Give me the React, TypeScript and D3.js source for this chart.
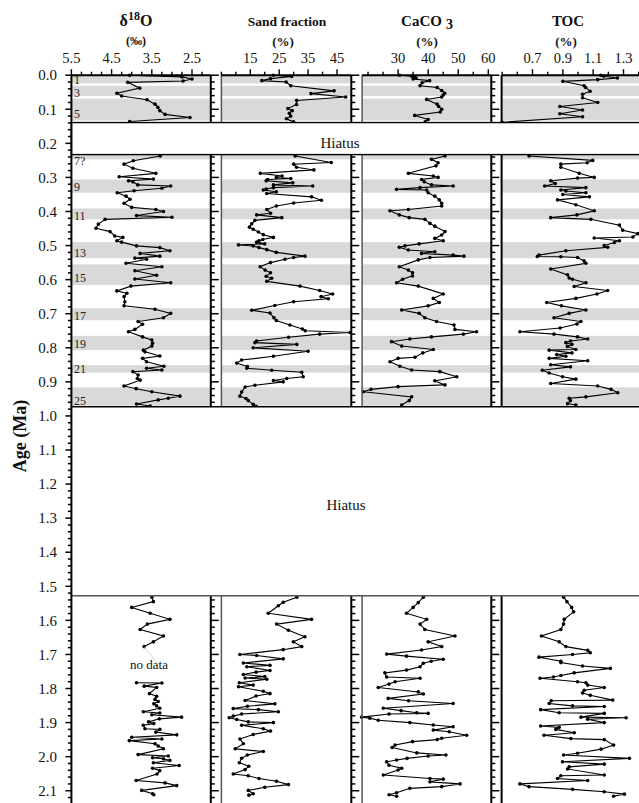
import React from "react";
import * as d3 from "d3";

// ---------------- DATA ----------------
type P = [number, number]; // [age Ma, value]

const d18oTop: P[] = [[0.000,4.05],[0.005,2.75],[0.011,2.5],[0.017,2.72],[0.021,4.1],[0.038,3.8],[0.053,4.37],[0.061,4.25],[0.072,3.62],[0.085,3.42],[0.094,3.35],[0.104,3.3],[0.115,3.17],[0.124,2.55],[0.136,4.05]];
const d18oMid: P[] = [[0.237,3.29],[0.251,3.96],[0.261,4.19],[0.273,3.97],[0.288,3.40],[0.298,4.31],[0.305,3.46],[0.310,4.08],[0.313,3.97],[0.322,3.85],[0.325,3.03],[0.332,3.25],[0.339,3.94],[0.345,4.36],[0.355,4.14],[0.364,4.04],[0.376,4.19],[0.388,4.0],[0.394,3.40],[0.400,3.21],[0.412,3.88],[0.417,3.0],[0.423,4.66],[0.437,4.83],[0.449,4.89],[0.459,4.54],[0.472,4.42],[0.476,4.22],[0.486,4.37],[0.490,4.25],[0.501,3.88],[0.506,3.30],[0.515,3.05],[0.523,3.79],[0.531,3.30],[0.537,3.92],[0.540,3.63],[0.552,4.14],[0.562,3.25],[0.574,3.92],[0.587,3.38],[0.598,3.92],[0.609,3.03],[0.619,4.02],[0.633,4.37],[0.640,4.12],[0.650,4.19],[0.665,4.17],[0.677,4.19],[0.687,3.42],[0.699,3.03],[0.712,3.21],[0.723,3.84],[0.731,3.73],[0.746,3.92],[0.753,4.08],[0.768,3.73],[0.777,3.50],[0.787,3.48],[0.795,3.50],[0.807,3.71],[0.812,3.67],[0.824,3.30],[0.831,3.73],[0.841,3.63],[0.854,3.20],[0.860,3.63],[0.865,3.25],[0.870,3.97],[0.880,3.84],[0.890,3.86],[0.895,3.79],[0.912,4.19],[0.920,3.89],[0.929,3.50],[0.942,2.80],[0.948,3.09],[0.953,3.34],[0.965,3.88],[0.971,3.54]];
const d18oBotA: P[] = [[1.532,3.50],[1.545,3.46],[1.562,4.0],[1.579,3.54],[1.597,3.05],[1.611,3.61],[1.627,3.79],[1.646,3.21],[1.663,3.46],[1.677,3.69]];
const d18oBotB: P[] = [[1.783,3.88],[1.784,3.25],[1.793,3.69],[1.797,3.38],[1.815,3.56],[1.823,3.38],[1.832,3.42],[1.838,3.34],[1.845,3.45],[1.851,3.38],[1.858,3.30],[1.868,3.71],[1.872,3.3],[1.877,3.5],[1.884,2.76],[1.889,3.31],[1.898,3.58],[1.903,3.45],[1.908,3.71],[1.918,3.67],[1.920,3.30],[1.928,3.4],[1.936,2.88],[1.943,4.0],[1.948,3.25],[1.953,4.06],[1.962,3.42],[1.969,3.34],[1.977,3.21],[1.994,3.84],[1.998,3.09],[2.003,3.48],[2.006,3.21],[2.011,3.05],[2.018,3.46],[2.026,2.82],[2.034,3.48],[2.041,3.30],[2.051,3.37],[2.070,3.89],[2.077,3.17],[2.085,2.88],[2.099,3.75],[2.109,3.48],[2.112,3.45]];

const sandTop: P[] = [[0.000,23],[0.004,29.3],[0.010,22],[0.016,19],[0.020,27.4],[0.031,29],[0.046,44],[0.054,36],[0.064,48],[0.074,31],[0.086,31],[0.098,28],[0.104,29.5],[0.112,28.5],[0.120,29],[0.128,27.5],[0.137,30]];
const sandMid: P[] = [[0.237,30.5],[0.256,43],[0.261,30],[0.270,31],[0.278,37],[0.288,18.5],[0.296,26],[0.300,24],[0.303,29],[0.306,21],[0.310,20.5],[0.316,29.7],[0.322,23],[0.325,36.6],[0.330,23],[0.334,20.5],[0.337,19.5],[0.342,24],[0.347,20.7],[0.357,36.2],[0.367,39.6],[0.375,30],[0.384,24],[0.394,20.7],[0.405,22],[0.410,17.2],[0.418,25.9],[0.426,16.6],[0.436,15.5],[0.446,14.7],[0.452,16],[0.460,17.8],[0.468,19.5],[0.476,23],[0.482,19.3],[0.486,18],[0.490,17.2],[0.495,20],[0.498,10.9],[0.501,16],[0.506,18],[0.512,20.7],[0.520,24],[0.531,33.9],[0.535,30],[0.540,27],[0.550,22],[0.562,18.4],[0.572,20.1],[0.580,22],[0.590,20.5],[0.596,22.4],[0.605,20.7],[0.619,32.2],[0.632,39],[0.642,43.5],[0.650,39.5],[0.656,42],[0.665,30],[0.676,23.5],[0.690,15.5],[0.698,21.8],[0.712,23.2],[0.720,24],[0.733,28.7],[0.745,33],[0.750,34],[0.755,49.5],[0.760,39],[0.769,28.2],[0.780,17.2],[0.785,16.6],[0.790,31.1],[0.800,16],[0.810,35],[0.825,23],[0.836,12],[0.845,10.3],[0.855,14],[0.860,13.8],[0.866,22.4],[0.872,32.8],[0.885,33.3],[0.890,27.6],[0.896,23],[0.900,26.4],[0.910,16.6],[0.915,13.2],[0.930,12],[0.942,11.4],[0.949,13.5],[0.955,14.3],[0.966,16],[0.972,17]];
const sandBot: P[] = [[1.532,31.1],[1.547,26.4],[1.557,24.7],[1.579,21.2],[1.597,36.2],[1.611,24.1],[1.629,28.2],[1.648,33.9],[1.663,29.9],[1.677,32.8],[1.686,26.4],[1.700,11.4],[1.703,17.2],[1.713,26.4],[1.725,12.6],[1.732,21.8],[1.736,13.8],[1.747,21.8],[1.752,17],[1.759,12.6],[1.765,20],[1.769,13.2],[1.773,20.7],[1.783,11.2],[1.790,16],[1.795,10.9],[1.808,19.5],[1.815,21.8],[1.822,17],[1.835,13.2],[1.845,23.5],[1.852,14],[1.859,9.1],[1.862,17.8],[1.868,24.7],[1.875,12],[1.881,9.1],[1.886,7.7],[1.891,10.3],[1.898,14.3],[1.900,23],[1.908,12],[1.918,19.5],[1.925,22],[1.935,16],[1.948,11.4],[1.962,12.6],[1.977,9.8],[1.985,19.5],[1.995,14],[2.005,12],[2.018,11.2],[2.028,14.5],[2.038,13.2],[2.051,9.1],[2.056,14.3],[2.064,18],[2.072,24.1],[2.082,28.2],[2.090,20],[2.099,14.3],[2.109,16],[2.113,14.5]];

const caco3Top: P[] = [[0.000,30.5],[0.003,34.5],[0.005,35.5],[0.008,36],[0.011,35],[0.016,40.5],[0.022,38],[0.031,37.3],[0.036,43],[0.045,44.5],[0.053,45.5],[0.058,45],[0.064,44.5],[0.071,39.5],[0.085,43],[0.092,43.5],[0.100,44.5],[0.108,44],[0.118,35.5],[0.130,40],[0.137,39]];
const caco3Mid: P[] = [[0.237,45.6],[0.247,41.1],[0.257,43.3],[0.266,42.6],[0.288,33.4],[0.296,41.7],[0.300,43.3],[0.306,37.8],[0.313,38.7],[0.322,41.1],[0.325,48.3],[0.330,37.3],[0.335,29.5],[0.337,39.5],[0.345,40],[0.355,42.2],[0.366,43.7],[0.376,44.5],[0.384,44.5],[0.394,33.4],[0.398,27.3],[0.410,30.4],[0.418,33.7],[0.423,38.9],[0.435,40.6],[0.443,42.2],[0.459,45.6],[0.469,44.5],[0.479,42.2],[0.486,45],[0.495,37],[0.501,32.3],[0.505,30.4],[0.513,33.4],[0.518,42.2],[0.523,37.8],[0.528,48.3],[0.531,51.9],[0.535,40.6],[0.542,36.7],[0.562,30.4],[0.572,33.4],[0.580,34.8],[0.589,34.8],[0.599,31.5],[0.609,29.5],[0.619,36.7],[0.642,45],[0.655,41.7],[0.667,43.7],[0.677,40],[0.689,31.2],[0.699,37],[0.712,38.9],[0.723,42.8],[0.733,48.6],[0.746,48.9],[0.753,56.1],[0.760,51.7],[0.768,41.1],[0.774,33.9],[0.782,27.8],[0.795,31.2],[0.805,41.7],[0.815,38.2],[0.828,35.6],[0.831,30],[0.841,27.3],[0.854,30.6],[0.865,34.5],[0.870,43.9],[0.885,49.5],[0.897,42.2],[0.909,45.6],[0.914,30],[0.922,21],[0.929,18.4],[0.944,34.5],[0.955,33.7],[0.968,31.2]];
const caco3Bot: P[] = [[1.532,38.4],[1.548,36.7],[1.562,35],[1.579,32.8],[1.597,39.5],[1.611,37.3],[1.627,38.9],[1.646,48.9],[1.663,40],[1.677,44.5],[1.687,37.8],[1.699,26.2],[1.705,32.8],[1.714,45],[1.720,41],[1.726,38.4],[1.736,37.3],[1.746,32.8],[1.754,25.6],[1.766,26.2],[1.770,37.3],[1.780,29],[1.787,27],[1.797,23.4],[1.810,36.7],[1.816,38.4],[1.829,26.7],[1.836,33.5],[1.844,48.3],[1.858,25.1],[1.865,31],[1.871,36.2],[1.873,40],[1.875,27],[1.884,17.9],[1.887,20.6],[1.893,23.4],[1.900,33.9],[1.907,41.7],[1.912,48.3],[1.922,41.7],[1.927,47],[1.937,52.8],[1.946,44.5],[1.950,43],[1.956,34.8],[1.966,29],[1.973,28],[1.989,36.2],[1.995,45.9],[1.998,40],[2.005,33],[2.010,29.5],[2.015,26.2],[2.025,27],[2.034,31.2],[2.039,30],[2.054,25.1],[2.064,40.6],[2.066,45],[2.074,40.6],[2.080,50.6],[2.088,44.5],[2.093,33.9],[2.106,29.5],[2.112,27],[2.116,29.5]];

const tocTop: P[] = [[0.000,1.15],[0.003,1.17],[0.008,1.26],[0.013,1.13],[0.018,0.9],[0.031,1.04],[0.036,1.05],[0.047,1.08],[0.056,1.03],[0.066,1.03],[0.080,1.13],[0.092,0.88],[0.102,1.03],[0.113,0.88],[0.122,1.03],[0.138,0.5]];
const tocMid: P[] = [[0.237,0.677],[0.250,1.097],[0.257,1.06],[0.261,0.887],[0.270,0.887],[0.288,1.008],[0.300,1.107],[0.302,0.997],[0.310,0.82],[0.318,0.85],[0.325,0.78],[0.330,1.052],[0.337,0.887],[0.340,0.92],[0.345,1.052],[0.350,0.9],[0.357,1.075],[0.366,0.865],[0.380,0.986],[0.398,1.107],[0.410,0.993],[0.418,0.82],[0.423,1.085],[0.440,1.273],[0.455,1.295],[0.465,1.395],[0.475,1.362],[0.478,1.107],[0.486,1.273],[0.491,1.24],[0.500,1.173],[0.505,1.196],[0.515,0.92],[0.528,0.743],[0.532,0.732],[0.533,0.887],[0.535,0.997],[0.545,1.04],[0.552,1.052],[0.569,0.82],[0.586,0.931],[0.595,0.942],[0.599,0.964],[0.609,1.052],[0.620,0.975],[0.632,1.196],[0.642,1.125],[0.655,0.986],[0.667,0.794],[0.677,0.891],[0.689,1.052],[0.699,0.942],[0.712,0.842],[0.723,1.019],[0.730,0.993],[0.742,0.882],[0.753,0.617],[0.760,0.842],[0.768,0.997],[0.774,1.064],[0.780,0.95],[0.785,0.92],[0.790,0.96],[0.796,0.93],[0.805,0.986],[0.807,0.81],[0.815,0.96],[0.820,0.86],[0.825,0.92],[0.831,0.81],[0.838,1.064],[0.850,0.82],[0.856,0.95],[0.866,0.765],[0.874,0.81],[0.885,0.898],[0.892,0.986],[0.905,0.82],[0.912,1.13],[0.922,1.218],[0.932,1.262],[0.944,1.052],[0.948,0.942],[0.955,0.95],[0.964,0.931],[0.968,0.986]];
const tocBot: P[] = [[1.532,0.905],[1.545,0.927],[1.562,0.958],[1.575,0.971],[1.597,0.909],[1.611,0.905],[1.627,0.887],[1.646,0.759],[1.663,0.876],[1.677,0.92],[1.688,1.064],[1.695,1.081],[1.700,0.964],[1.708,0.743],[1.720,0.887],[1.724,0.887],[1.734,1.03],[1.741,1.213],[1.754,0.975],[1.762,0.887],[1.766,0.838],[1.770,0.75],[1.780,0.997],[1.783,1.052],[1.790,1.064],[1.797,1.173],[1.805,1.041],[1.813,1.03],[1.820,1.081],[1.834,1.229],[1.836,0.823],[1.844,0.81],[1.851,0.964],[1.853,1.173],[1.862,0.754],[1.871,0.876],[1.873,1.173],[1.884,1.02],[1.886,1.317],[1.890,1.064],[1.900,1.173],[1.910,0.754],[1.914,0.876],[1.920,0.854],[1.930,0.975],[1.937,0.776],[1.947,0.953],[1.950,1.173],[1.966,1.235],[1.978,1.152],[1.990,0.997],[1.995,0.905],[2.005,1.339],[2.015,0.898],[2.022,1.173],[2.030,0.942],[2.036,0.931],[2.054,1.173],[2.056,0.887],[2.064,0.865],[2.070,1.064],[2.080,0.617],[2.088,0.677],[2.096,0.964],[2.103,1.173],[2.110,1.306],[2.116,1.235]];

// interglacial (odd MIS) bands [start, end] in Ma
const bandStarts = [0.000, 0.031, 0.069, 0.233, 0.306, 0.391, 0.490, 0.555, 0.684, 0.765, 0.851, 0.916];
const bandEnds   = [0.024, 0.061, 0.133, 0.247, 0.345, 0.423, 0.537, 0.616, 0.719, 0.807, 0.873, 0.970];
const misLabels  = ["1", "3", "5", "7?", "9", "11", "13", "15", "17", "19", "21", "25"];
const misLabelAges = [0.026, 0.063, 0.127, 0.264, 0.339, 0.425, 0.535, 0.606, 0.718, 0.802, 0.875, 0.968];

// data sections and hiatuses (Ma)
const sectionStarts = [0, 0.233, 1.528];
const sectionEnds = [0.139, 0.973, 2.136];
const ageTickLabels = ["0.0","0.1","0.2","0.3","0.4","0.5","0.6","0.7","0.8","0.9","1.0","1.1","1.2","1.3","1.4","1.5","1.6","1.7","1.8","1.9","2.0","2.1"];

const d18oTicks = [5.5, 4.5, 3.5, 2.5];
const sandTicks = [15, 25, 35, 45];
const caco3Ticks = [30, 40, 50, 60];
const tocTicks = [0.7, 0.9, 1.1, 1.3];

// ---------------- LAYOUT ----------------
const W = 639, H = 803;
const FONT = "'Liberation Serif', 'DejaVu Serif', serif";
const y = d3.scaleLinear().domain([0, 2.136]).range([75.2, 803]);

interface Panel {
  x0: number; x1: number; scale: d3.ScaleLinear<number, number>;
  ticks: number[]; minorStep: number; series: P[][];
  leftColor: string; fmt: (v: number) => string;
}

const panels: Panel[] = [
  { x0: 71.4, x1: 210.8, scale: d3.scaleLinear().domain([5.5, 2.5]).range([71.4, 192.0]),
    ticks: d18oTicks, minorStep: 0.25, series: [d18oTop, d18oMid, d18oBotA, d18oBotB], leftColor: "#000", fmt: d3.format(".1f") },
  { x0: 221.4, x1: 351.3, scale: d3.scaleLinear().domain([15, 45]).range([250.3, 337.0]),
    ticks: sandTicks, minorStep: 5, series: [sandTop, sandMid, sandBot], leftColor: "#555", fmt: d3.format("d") },
  { x0: 362.1, x1: 491.3, scale: d3.scaleLinear().domain([30, 60]).range([398.1, 488.3]),
    ticks: caco3Ticks, minorStep: 5, series: [caco3Top, caco3Mid, caco3Bot], leftColor: "#555", fmt: d3.format("d") },
  { x0: 501.6, x1: 660, scale: d3.scaleLinear().domain([0.7, 1.3]).range([532.5, 623.5]),
    ticks: tocTicks, minorStep: 0.1, series: [tocTop, tocMid, tocBot], leftColor: "#000", fmt: d3.format(".1f") },
];

function minorValues(p: Panel): number[] {
  const inv = p.scale.invert;
  const a = inv(p.x0), b = inv(p.x1);
  const lo = Math.min(a, b), hi = Math.max(a, b);
  const out: number[] = [];
  const start = Math.ceil(lo / p.minorStep - 1e-6);
  for (let k = start; k * p.minorStep <= hi + 1e-9; k++) out.push(+(k * p.minorStep).toFixed(4));
  return out;
}

const ageMinor = d3.range(0, 107).map((i) => +(i * 0.02).toFixed(3)).filter((a) => a <= 2.13);

export default function App() {
  const line = (p: Panel) =>
    d3.line<P>().x((d) => p.scale(d[1])).y((d) => y(d[0]));

  return (
    <svg width={W} height={H} style={{ position: "absolute", left: 0, top: 0, background: "#fff" }} fontFamily={FONT}>
      <rect x={0} y={0} width={W} height={H} fill="#fff" />

      {/* gray bands */}
      {panels.map((p, pi) =>
        bandStarts.map((s, i) => (
          <rect key={`b${pi}-${i}`} x={p.x0} width={p.x1 - p.x0} y={y(s)} height={y(bandEnds[i]) - y(s)} fill="#d9d9d9" />
        ))
      )}

      {/* MIS labels */}
      {misLabels.map((t, i) => (
        <text key={`m${i}`} x={74} y={y(misLabelAges[i])} fontSize={12} fill="#222">{t}</text>
      ))}

      {/* data */}
      {panels.map((p, pi) => (
        <g key={`d${pi}`}>
          {p.series.map((s, si) => (
            <g key={si}>
              <path d={line(p)(s) || ""} fill="none" stroke="#000" strokeWidth={1.1} />
              {s.map((d, di) => (
                <circle key={di} cx={p.scale(d[1])} cy={y(d[0])} r={1.8} fill="#000" />
              ))}
            </g>
          ))}
        </g>
      ))}

      {/* faint leader to 'no data' */}
      <line x1={panels[0].scale(3.69)} y1={y(1.677)} x2={157} y2={663} stroke="#ccc" strokeWidth={0.8} />
      <text x={149} y={669} fontSize={13} textAnchor="middle" fill="#111">no data</text>

      {/* panel frames per section */}
      {panels.map((p, pi) =>
        sectionStarts.map((s, si) => {
          const e = sectionEnds[si];
          const ticks = ageMinor.filter((a) => a >= s - 1e-6 && a <= e + 1e-6);
          return (
            <g key={`f${pi}-${si}`}>
              {pi > 0 && <line x1={p.x0} x2={p.x0} y1={y(s)} y2={y(e)} stroke={p.leftColor} strokeWidth={pi === 3 ? 2 : 1.5} />}
              {pi < 3 && (
                <g>
                  <line x1={p.x1} x2={p.x1} y1={y(s)} y2={y(e)} stroke="#000" strokeWidth={2} />
                  {ticks.map((a, ti) => {
                    const major = Math.abs(a * 10 - Math.round(a * 10)) < 1e-6;
                    return <line key={ti} x1={p.x1} x2={p.x1 + (major ? 8 : 4)} y1={y(a)} y2={y(a)} stroke="#000" strokeWidth={1.5} />;
                  })}
                </g>
              )}
            </g>
          );
        })
      )}

      {/* top axes */}
      {panels.map((p, pi) => (
        <g key={`t${pi}`}>
          <line x1={p.x0} x2={p.x1} y1={y(0)} y2={y(0)} stroke="#000" strokeWidth={2} />
          {minorValues(p).map((v, i) => {
            const major = p.ticks.some((t) => Math.abs(t - v) < 1e-6);
            return <line key={i} x1={p.scale(v)} x2={p.scale(v)} y1={y(0)} y2={y(0) - (major ? 6 : 3.5)} stroke="#000" strokeWidth={1.4} />;
          })}
          {p.ticks.map((t, i) => (
            <text key={`l${i}`} x={p.scale(t)} y={63} fontSize={14.5} textAnchor="middle" fill="#111">{p.fmt(t)}</text>
          ))}
        </g>
      ))}

      {/* upper hiatus box */}
      <rect x={71.4} y={y(0.139)} width={600} height={y(0.233) - y(0.139)} fill="#fff" stroke="#000" strokeWidth={1.4} />
      <text x={340} y={148} fontSize={15} textAnchor="middle" fill="#111">Hiatus</text>

      {/* lower hiatus */}
      <rect x={71.4} y={y(0.973)} width={600} height={y(1.528) - y(0.973)} fill="#fff" />
      <line x1={71.4} x2={W} y1={y(0.973)} y2={y(0.973)} stroke="#000" strokeWidth={1.5} />
      <line x1={71.4} x2={W} y1={y(1.528)} y2={y(1.528)} stroke="#555" strokeWidth={1.5} />
      <text x={346} y={510} fontSize={15} textAnchor="middle" fill="#111">Hiatus</text>

      {/* left age axis */}
      <line x1={71.4} x2={71.4} y1={y(0)} y2={H} stroke="#000" strokeWidth={2} />
      {ageMinor.map((a, i) => {
        const major = Math.abs(a * 10 - Math.round(a * 10)) < 1e-6;
        return <line key={`a${i}`} x1={71.4} x2={71.4 - (major ? 6 : 3.5)} y1={y(a)} y2={y(a)} stroke="#000" strokeWidth={1.5} />;
      })}
      {ageTickLabels.map((t, i) => (
        <text key={`al${i}`} x={57} y={y(+t)} dy="0.35em" fontSize={15} textAnchor="end" fill="#111">{t}</text>
      ))}
      <text transform="translate(20,436) rotate(-90)" fontSize={18} fontWeight="bold" textAnchor="middle" dy="0.35em" fill="#111">Age (Ma)</text>

      {/* titles */}
      <text x={136} y={26} fontSize={16} fontWeight="bold" textAnchor="middle" fill="#111">
        δ<tspan dy={-6} fontSize={12}>18</tspan><tspan dy={6}>O</tspan>
      </text>
      <text x={136} y={45} fontSize={12} fontWeight="bold" textAnchor="middle" fill="#111">(‰)</text>
      <text x={287} y={26} fontSize={13.5} fontWeight="bold" textAnchor="middle" fill="#111">Sand fraction</text>
      <text x={283} y={46} fontSize={13} fontWeight="bold" textAnchor="middle" fill="#111">(%)</text>
      <text x={427} y={26} fontSize={15} fontWeight="bold" textAnchor="middle" fill="#111">
        CaCO<tspan dx={4} dy={3} fontSize={14}>3</tspan>
      </text>
      <text x={427} y={46} fontSize={13} fontWeight="bold" textAnchor="middle" fill="#111">(%)</text>
      <text x={568} y={26} fontSize={15} fontWeight="bold" textAnchor="middle" fill="#111">TOC</text>
      <text x={566} y={46} fontSize={13} fontWeight="bold" textAnchor="middle" fill="#111">(%)</text>
    </svg>
  );
}
